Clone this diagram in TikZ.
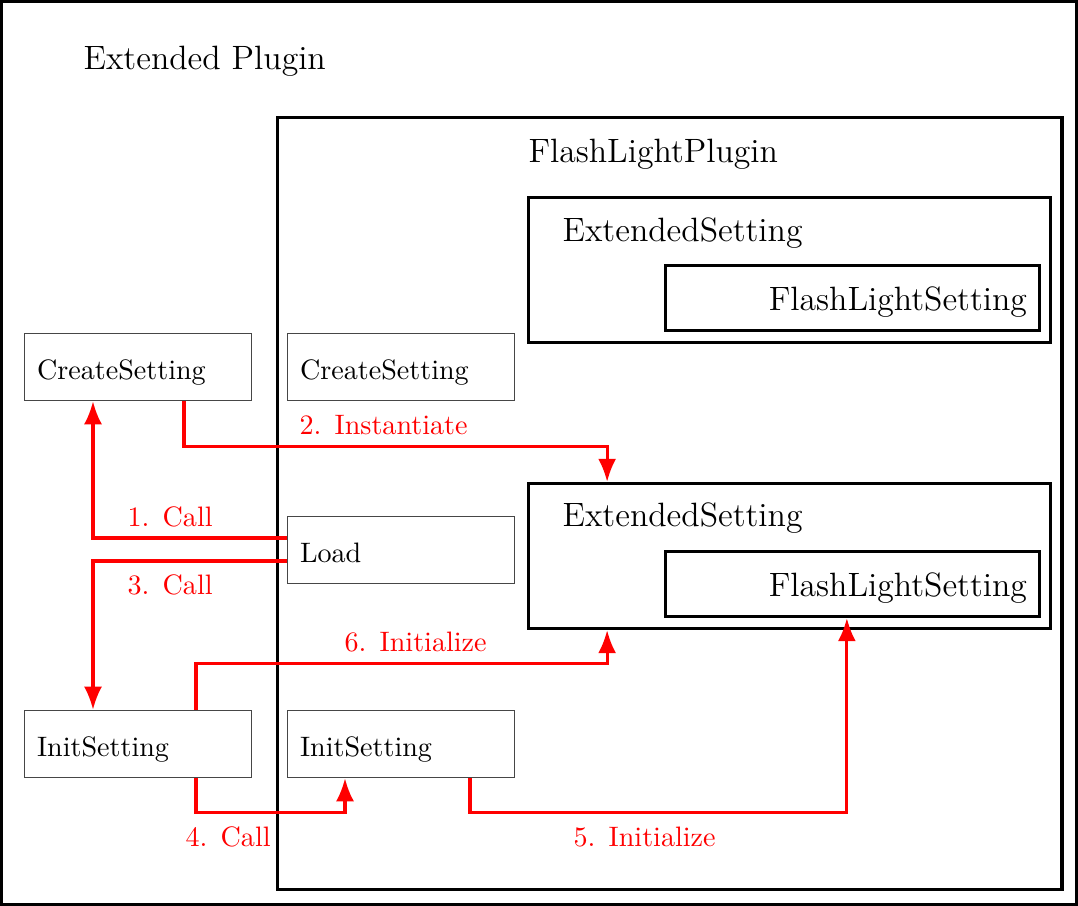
\documentclass[tikz,border=0pt]{standalone}
\usepackage{tikz}
\usetikzlibrary{arrows.meta,positioning,calc}
\definecolor{callRed}{RGB}{255,0,0}
\definecolor{boxGray}{RGB}{70,70,70}

\tikzset{
  frameBox/.style={draw=black,line width=1.1pt,inner sep=0pt},
  methodBox/.style={draw=boxGray,line width=0.5pt,minimum height=0.8375cm,
    text width=2.525cm,inner xsep=0.156cm,align=left,text height=8.8pt,text depth=0pt},
  settingBox/.style={draw=black,line width=1.1pt,minimum width=6.525cm,minimum height=1.8125cm,inner sep=0pt},
  innerBox/.style={draw=black,line width=1.1pt,minimum height=0.8125cm,font=\large,
    text width=4.3625cm,inner xsep=0.156cm,align=right,text height=8.7pt,text depth=0pt},
  callArrow/.style={draw=callRed,line width=1.1pt,-{Latex[length=8.2pt,width=6.4pt]}},
  callLabel/.style={text=callRed,anchor=base west,inner sep=0pt}
}
\newcommand{\stepgap}{\hspace{0.47em}}

\begin{document}
\begin{tikzpicture}
    \useasboundingbox (0,0) rectangle (13.475,-11.325);

    % Plugin frames
    \node[frameBox,minimum width=13.435cm,minimum height=11.285cm] (extPlugin) at (6.7375,-5.6625) {};
    \node[anchor=base west,inner sep=0pt,font=\large] (extPluginTitle) at (1.0375,-0.875) {Extended Plugin};
    \node[frameBox,minimum width=9.806cm,minimum height=9.65cm] (flashPlugin) at (8.372,-6.294) {};
    \node[anchor=base west,inner sep=0pt,font=\large] (flashPluginTitle) at (6.6,-2.03) {FlashLightPlugin};

    % Setting boxes
    \node[settingBox] (extSetA) at (9.869,-3.375) {};
    \node[anchor=base west,inner sep=0pt,font=\large] (extSetATitle) at (7.025,-3.025) {ExtendedSetting};
    \node[innerBox] (flashSetA) at (10.656,-3.725) {FlashLightSetting};

    \node[settingBox] (extSetB) at (9.869,-6.95) {};
    \node[anchor=base west,inner sep=0pt,font=\large] (extSetBTitle) at (7.025,-6.5875) {ExtendedSetting};
    \node[innerBox] (flashSetB) at (10.656,-7.3) {FlashLightSetting};

    % Method boxes
    \node[methodBox] (createA) at (1.725,-4.5875) {CreateSetting};
    \node[methodBox] (createB) at (5.0125,-4.5875) {CreateSetting};
    \node[methodBox] (load) at (5.0125,-6.875) {Load};
    \node[methodBox] (initA) at (1.725,-9.3) {InitSetting};
    \node[methodBox] (initB) at (5.0125,-9.3) {InitSetting};

    % Calls
    \draw[callArrow] ([yshift=0.15cm]load.west) -| ([xshift=-0.5625cm]createA.south);
    \node[callLabel] (lblCallA) at (1.5875,-6.5875) {1.\stepgap Call};

    \draw[callArrow] ([xshift=0.575cm]createA.south) -- ++(0,-0.5625) -| ([xshift=-2.28cm]extSetB.north);
    \node[callLabel] (lblInst) at (3.7375,-5.4375) {2.\stepgap Instantiate};

    \draw[callArrow] ([yshift=-0.1375cm]load.west) -| ([xshift=-0.5625cm]initA.north);
    \node[callLabel] (lblCallB) at (1.5875,-7.4375) {3.\stepgap Call};

    \draw[callArrow] ([xshift=0.725cm]initA.south) -- ++(0,-0.425) -| ([xshift=-0.7cm]initB.south);
    \node[callLabel] (lblCallC) at (2.3125,-10.5875) {4.\stepgap Call};

    \draw[callArrow] ([xshift=0.8625cm]initB.south) -- ++(0,-0.425) -| ([xshift=-0.07cm]flashSetB.south);
    \node[callLabel] (lblInitA) at (7.1625,-10.5875) {5.\stepgap Initialize};

    \draw[callArrow] ([xshift=0.725cm]initA.north) -- ++(0,0.575) -| ([xshift=-2.28cm]extSetB.south);
    \node[callLabel] (lblInitB) at (4.3,-8.145) {6.\stepgap Initialize};
\end{tikzpicture}
\end{document}
